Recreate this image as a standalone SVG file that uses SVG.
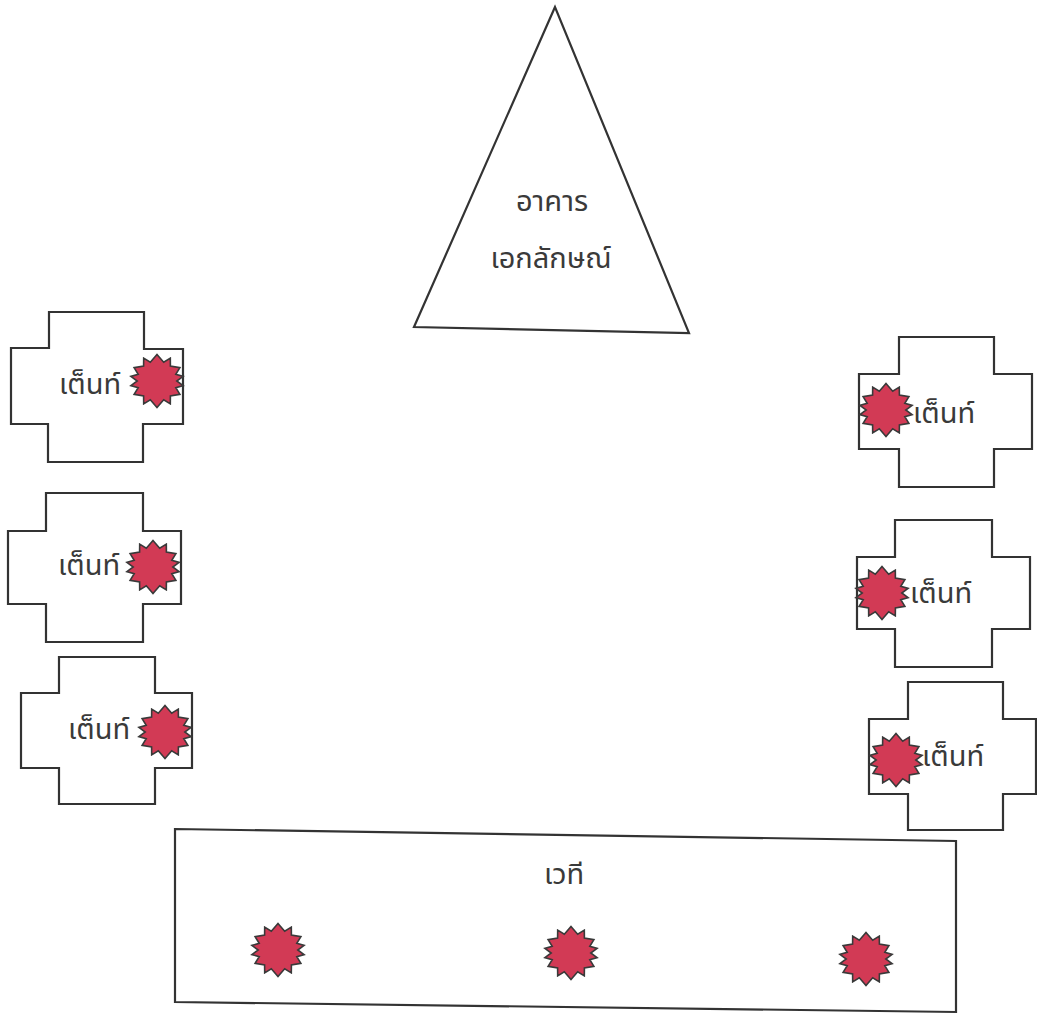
<svg xmlns="http://www.w3.org/2000/svg" width="1037" height="1014" viewBox="0 0 1037 1014">
<style>
.ol{fill:#fff;stroke:#333;stroke-width:2.2;stroke-linejoin:miter}
.lbl{font-family:"Noto Sans Thai","Loma","Garuda","Tlwg Typo","DejaVu Sans","Noto Sans",sans-serif;font-size:29px;fill:#3a3a3a}
.big{font-size:29px}
.burst{fill:#d23a55;stroke:#3a3a3a;stroke-width:1.6;stroke-linejoin:miter}
</style>
<defs>
<polygon id="star18" points="0,-26.5 6.7,-18.8 13.3,-22.9 13.4,-14.9 22.9,-13.3 18.8,-6.7 26.1,-4.6 19.8,0 26.1,4.6 18.8,6.7 22.9,13.3 13.4,14.9 13.3,22.9 6.7,18.8 0,26.5 -6.7,18.8 -13.3,22.9 -13.4,14.9 -22.9,13.3 -18.8,6.7 -26.1,4.6 -19.8,0 -26.1,-4.6 -18.8,-6.7 -22.9,-13.3 -13.4,-14.9 -13.3,-22.9 -6.7,-18.8"/>
</defs>
<rect width="1037" height="1014" fill="#fff"/>
<g id="landmark">
<polygon class="ol" points="555,7 414,327 689,333"/>
<text class="lbl big" x="552" y="211" text-anchor="middle">อาคาร</text>
<text class="lbl big" x="551" y="268" text-anchor="middle">เอกลักษณ์</text>
</g>
<g id="tent-l1">
<polygon class="ol" points="49,312 144,312 144,349 183,349 183,424 143,424 143,462 48,462 48,424 11,424 11,348 49,348"/>
<text class="lbl" x="59" y="394">เต็นท์</text>
<use href="#star18" class="burst" x="157" y="381"/>
</g>
<g id="tent-l2">
<polygon class="ol" points="46,493 143,493 143,531 181,531 181,604 143,604 143,642 46,642 46,604 8,604 8,531 46,531"/>
<text class="lbl" x="58" y="575">เต็นท์</text>
<use href="#star18" class="burst" x="153" y="567"/>
</g>
<g id="tent-l3">
<polygon class="ol" points="59,657 155,657 155,693 192,693 192,768 155,768 155,804 59,804 59,768 21,768 21,693 59,693"/>
<text class="lbl" x="68" y="739">เต็นท์</text>
<use href="#star18" class="burst" x="165" y="732"/>
</g>
<g id="tent-r1">
<polygon class="ol" points="899,337 994,337 994,374 1032,374 1032,449 994,449 994,487 899,487 899,449 859,449 859,374 899,374"/>
<use href="#star18" class="burst" x="886" y="410"/>
<text class="lbl" x="913" y="423">เต็นท์</text>
</g>
<g id="tent-r2">
<polygon class="ol" points="895,520 992,520 992,557 1030,557 1030,629 992,629 992,667 895,667 895,629 857,629 857,557 895,557"/>
<use href="#star18" class="burst" x="882" y="593"/>
<text class="lbl" x="910" y="603">เต็นท์</text>
</g>
<g id="tent-r3">
<polygon class="ol" points="908,682 1003,682 1003,719 1036,719 1036,794 1003,794 1003,830 908,830 908,794 869,794 869,719 908,719"/>
<use href="#star18" class="burst" x="896" y="760"/>
<text class="lbl" x="922" y="766">เต็นท์</text>
</g>
<g id="stage">
<polygon class="ol" points="175,829 956,841 956,1012 175,1002"/>
<text class="lbl big" x="564" y="884" text-anchor="middle">เวที</text>
<use href="#star18" class="burst" x="278" y="950"/>
<use href="#star18" class="burst" x="571" y="953"/>
<use href="#star18" class="burst" x="866" y="959"/>
</g>
<g id="connectors"></g>
</svg>
